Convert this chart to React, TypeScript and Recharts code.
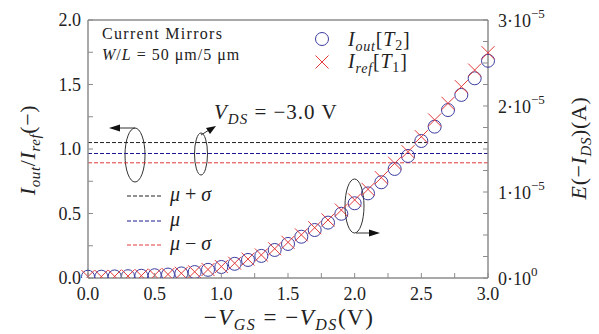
import React from 'react';
import {
  ComposedChart,
  Scatter,
  XAxis,
  YAxis,
  ReferenceLine,
  Customized,
} from 'recharts';

// gate voltage sweep (V)
const vgs = [
  0, 0.1, 0.2, 0.3, 0.4, 0.5, 0.6, 0.7, 0.8, 0.9, 1.0,
  1.1, 1.2, 1.3, 1.4, 1.5, 1.6, 1.7, 1.8, 1.9, 2.0,
  2.1, 2.2, 2.3, 2.4, 2.5, 2.6, 2.7, 2.8, 2.9, 3.0,
];

// mean drain currents (A)
const iOut = [
  0.015e-5, 0.015e-5, 0.018e-5, 0.021e-5, 0.026e-5, 0.032e-5, 0.04e-5, 0.053e-5, 0.069e-5, 0.095e-5, 0.128e-5,
  0.165e-5, 0.21e-5, 0.257e-5, 0.326e-5, 0.396e-5, 0.48e-5, 0.558e-5, 0.644e-5, 0.747e-5, 0.869e-5,
  0.984e-5, 1.113e-5, 1.268e-5, 1.419e-5, 1.593e-5, 1.76e-5, 1.953e-5, 2.129e-5, 2.322e-5, 2.526e-5,
];
const iRef = [
  0.016e-5, 0.016e-5, 0.019e-5, 0.022e-5, 0.027e-5, 0.033e-5, 0.042e-5, 0.055e-5, 0.072e-5, 0.099e-5, 0.133e-5,
  0.172e-5, 0.22e-5, 0.268e-5, 0.34e-5, 0.415e-5, 0.502e-5, 0.585e-5, 0.675e-5, 0.79e-5, 0.908e-5,
  1.031e-5, 1.167e-5, 1.334e-5, 1.469e-5, 1.643e-5, 1.838e-5, 2.031e-5, 2.225e-5, 2.418e-5, 2.62e-5,
];

// mirror ratio statistics
const ratioMuPlusSigma = 1.05;
const ratioMu = 0.965;
const ratioMuMinusSigma = 0.893;

const xTicks = [0, 0.25, 0.5, 0.75, 1, 1.25, 1.5, 1.75, 2, 2.25, 2.5, 2.75, 3];
const leftTicks = [0, 0.25, 0.5, 0.75, 1, 1.25, 1.5, 1.75, 2];
const rightTicks = [0, 0.25e-5, 0.5e-5, 0.75e-5, 1e-5, 1.25e-5, 1.5e-5, 1.75e-5, 2e-5, 2.25e-5, 2.5e-5, 2.75e-5, 3e-5];

const outData = vgs.map((v, k) => ({ v, i: iOut[k] }));
const refData = vgs.map((v, k) => ({ v, i: iRef[k] }));

const FONT = '"Liberation Serif", "Times New Roman", serif';
const AXIS = '#8c8c8c';
const BLUE = '#3c3ca0';
const RED = '#e23a3a';
const NAVY = '#1a1a90';

const onStep = (v: number, step: number) => Math.abs(v / step - Math.round(v / step)) < 1e-6;

const LeftTick = (p: any) => {
  const v = p.payload.value;
  return (
    <g>
      <line x1={p.x} x2={p.x + 5} y1={p.y} y2={p.y} stroke={AXIS} />
      {onStep(v, 0.5) && (
        <text x={p.x - 7} y={p.y + 6} textAnchor="end" fontSize={18} fontFamily={FONT} fill="#222">
          {v.toFixed(1)}
        </text>
      )}
    </g>
  );
};

const BottomTick = (p: any) => {
  const v = p.payload.value;
  return (
    <g>
      <line x1={p.x} x2={p.x} y1={p.y} y2={p.y - 5} stroke={AXIS} />
      {onStep(v, 0.5) && (
        <text x={p.x} y={p.y + 22} textAnchor="middle" fontSize={18} fontFamily={FONT} fill="#222">
          {v.toFixed(1)}
        </text>
      )}
    </g>
  );
};

const RightTick = (p: any) => {
  const v = p.payload.value;
  const n = Math.round(v / 1e-5);
  return (
    <g>
      <line x1={p.x} x2={p.x - 5} y1={p.y} y2={p.y} stroke={AXIS} />
      {onStep(v / 1e-5, 1) && (
        <text x={p.x + 10} y={p.y + 7} fontSize={18} fontFamily={FONT} fill="#222">
          {n}·10
          <tspan dy={-9} fontSize={13}>{n === 0 ? '0' : '−5'}</tspan>
        </text>
      )}
    </g>
  );
};

const Circle = (p: any) => <circle cx={p.cx} cy={p.cy} r={6.5} fill="none" stroke={BLUE} strokeWidth={1} />;
const Cross = (p: any) => (
  <g stroke={RED} strokeWidth={1}>
    <line x1={p.cx - 6.5} y1={p.cy - 6.5} x2={p.cx + 6.5} y2={p.cy + 6.5} />
    <line x1={p.cx - 6.5} y1={p.cy + 6.5} x2={p.cx + 6.5} y2={p.cy - 6.5} />
  </g>
);

const Annotations = () => (
  <g fontFamily={FONT} fill="#222">
    <text x={102} y={39} fontSize={16} letterSpacing={1.3}>Current Mirrors</text>
    <text x={102} y={60} fontSize={16} letterSpacing={1}>
      <tspan fontStyle="italic">W</tspan>/<tspan fontStyle="italic">L</tspan> = 50 μm/5 μm
    </text>

    <text x={214} y={119} fontSize={21} letterSpacing={1}>
      <tspan fontStyle="italic">V</tspan>
      <tspan dy={5} fontSize={15} fontStyle="italic">DS</tspan>
      <tspan dy={-5}> = −3.0 V</tspan>
    </text>

    {/* series legend */}
    <circle cx={322} cy={39} r={6.5} fill="none" stroke={BLUE} />
    <g stroke={RED}>
      <line x1={315.5} y1={55.5} x2={328.5} y2={68.5} />
      <line x1={315.5} y1={68.5} x2={328.5} y2={55.5} />
    </g>
    <text x={348} y={46} fontSize={20} letterSpacing={0.8}>
      <tspan fontStyle="italic">I</tspan>
      <tspan dy={5} fontSize={14} fontStyle="italic">out</tspan>
      <tspan dy={-5}>[</tspan>
      <tspan fontStyle="italic">T</tspan>
      <tspan dy={4} fontSize={14}>2</tspan>
      <tspan dy={-4}>]</tspan>
    </text>
    <text x={348} y={68} fontSize={20} letterSpacing={0.8}>
      <tspan fontStyle="italic">I</tspan>
      <tspan dy={5} fontSize={14} fontStyle="italic">ref</tspan>
      <tspan dy={-5}>[</tspan>
      <tspan fontStyle="italic">T</tspan>
      <tspan dy={4} fontSize={14}>1</tspan>
      <tspan dy={-4}>]</tspan>
    </text>

    {/* statistics legend */}
    <line x1={127} x2={162} y1={196} y2={196} stroke="#222" strokeDasharray="4 2" />
    <line x1={127} x2={162} y1={221} y2={221} stroke={NAVY} strokeDasharray="4 2" />
    <line x1={127} x2={162} y1={245} y2={245} stroke={RED} strokeDasharray="4 2" />
    <text x={170} y={201} fontSize={20}><tspan fontStyle="italic">μ</tspan> + <tspan fontStyle="italic">σ</tspan></text>
    <text x={170} y={226} fontSize={20}><tspan fontStyle="italic">μ</tspan></text>
    <text x={170} y={250} fontSize={20}><tspan fontStyle="italic">μ</tspan> − <tspan fontStyle="italic">σ</tspan></text>

    {/* ellipses with arrows */}
    <g fill="none" stroke="#333" strokeWidth={1}>
      <ellipse cx={135} cy={155} rx={10} ry={27} />
      <path d="M135 128 L118 128" />
      <ellipse cx={201} cy={154} rx={6.5} ry={21} />
      <path d="M201 135 L209 130" />
      <ellipse cx={354.5} cy={206} rx={9.5} ry={27} />
      <path d="M356 233 L371 233" />
    </g>
    <polygon points="109,128 120,124.5 120,131.5" fill="#111" />
    <polygon points="216,126 206,128 210,134" fill="#111" />
    <polygon points="380,233 369,229.5 369,236.5" fill="#111" />

    {/* axis titles */}
    <text transform="translate(35,150) rotate(-90)" textAnchor="middle" fontSize={22} letterSpacing={0.6}>
      <tspan fontStyle="italic">I</tspan>
      <tspan dy={5} fontSize={15} fontStyle="italic">out</tspan>
      <tspan dy={-5}>/</tspan>
      <tspan fontStyle="italic">I</tspan>
      <tspan dy={5} fontSize={15} fontStyle="italic">ref</tspan>
      <tspan dy={-5}>(−)</tspan>
    </text>
    <text transform="translate(586,148) rotate(-90)" textAnchor="middle" fontSize={22} letterSpacing={0.6}>
      <tspan fontStyle="italic">E</tspan>
      <tspan>(−</tspan>
      <tspan fontStyle="italic">I</tspan>
      <tspan dy={5} fontSize={15} fontStyle="italic">DS</tspan>
      <tspan dy={-5}>)(A)</tspan>
    </text>
    <text x={289} y={325} textAnchor="middle" fontSize={23} letterSpacing={1.5}>
      <tspan>−</tspan>
      <tspan fontStyle="italic">V</tspan>
      <tspan dy={5} fontSize={16} fontStyle="italic">GS</tspan>
      <tspan dy={-5}> = −</tspan>
      <tspan fontStyle="italic">V</tspan>
      <tspan dy={5} fontSize={16} fontStyle="italic">DS</tspan>
      <tspan dy={-5}>(V)</tspan>
    </text>
  </g>
);

export default function App() {
  return (
    <div style={{ position: 'absolute', left: 0, top: 0, background: '#fff' }}>
      <ComposedChart width={599} height={334} margin={{ top: 20, right: 0, bottom: 0, left: 0 }}>
        <XAxis
          type="number"
          dataKey="v"
          domain={[0, 3]}
          ticks={xTicks}
          interval={0}
          height={56}
          tickSize={0}
          tickMargin={0}
          tick={<BottomTick />}
          axisLine={{ stroke: AXIS, strokeWidth: 1.5 }}
        />
        <YAxis
          yAxisId="left"
          type="number"
          domain={[0, 2]}
          ticks={leftTicks}
          interval={0}
          width={88}
          tickSize={0}
          tickMargin={0}
          tick={<LeftTick />}
          axisLine={{ stroke: AXIS, strokeWidth: 1.5 }}
          allowDataOverflow
        />
        <YAxis
          yAxisId="right"
          orientation="right"
          type="number"
          dataKey="i"
          domain={[0, 3e-5]}
          ticks={rightTicks}
          interval={0}
          width={111}
          tickSize={0}
          tickMargin={0}
          tick={<RightTick />}
          axisLine={{ stroke: AXIS, strokeWidth: 1.5 }}
          allowDataOverflow
        />
        <ReferenceLine yAxisId="left" y={2} stroke={AXIS} strokeWidth={1.5} />
        <ReferenceLine yAxisId="left" y={ratioMuPlusSigma} stroke="#222" strokeDasharray="4 2" />
        <ReferenceLine yAxisId="left" y={ratioMu} stroke={NAVY} strokeDasharray="4 2" />
        <ReferenceLine yAxisId="left" y={ratioMuMinusSigma} stroke={RED} strokeDasharray="4 2" />
        <Scatter yAxisId="right" data={outData} shape={<Circle />} isAnimationActive={false} />
        <Scatter yAxisId="right" data={refData} shape={<Cross />} isAnimationActive={false} />
        <Customized component={<Annotations />} />
      </ComposedChart>
    </div>
  );
}
